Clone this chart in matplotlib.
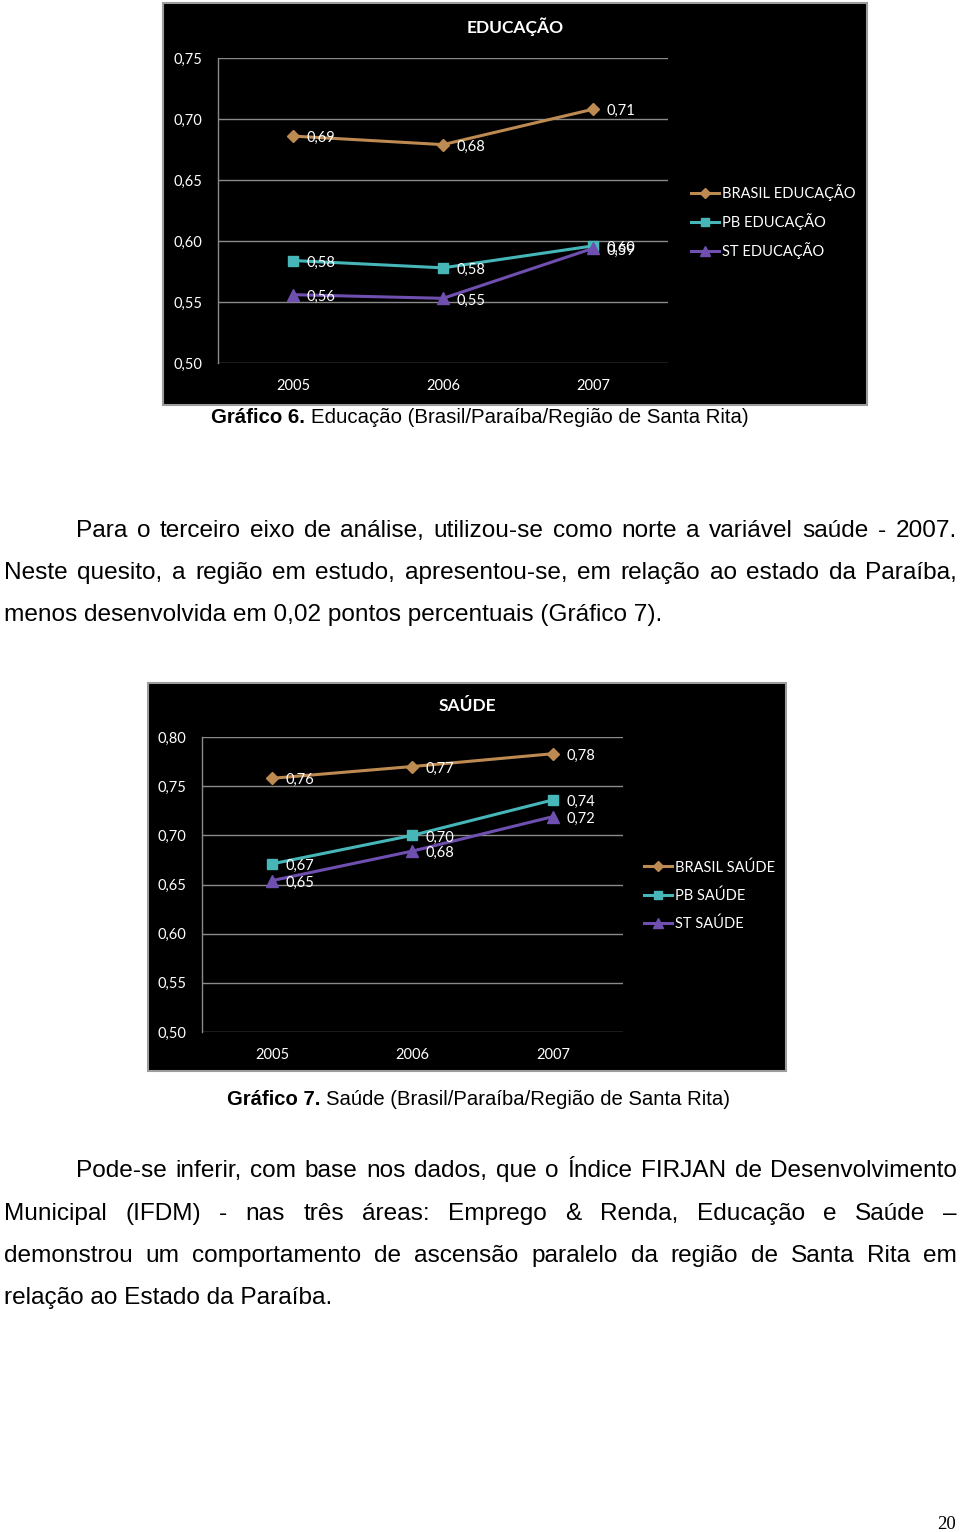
import matplotlib
matplotlib.use('Agg')
import matplotlib.pyplot as plt
from matplotlib.patches import Rectangle

# ---------------- data ----------------
years = ['2005', '2006', '2007']

edu_names = ['BRASIL EDUCAÇÃO', 'PB EDUCAÇÃO', 'ST EDUCAÇÃO']
edu_brasil = [0.686, 0.679, 0.708]
edu_pb = [0.584, 0.578, 0.596]
edu_st = [0.556, 0.553, 0.594]
edu_ticks = [0.50, 0.55, 0.60, 0.65, 0.70, 0.75]

sau_names = ['BRASIL SAÚDE', 'PB SAÚDE', 'ST SAÚDE']
sau_brasil = [0.758, 0.770, 0.783]
sau_pb = [0.671, 0.700, 0.736]
sau_st = [0.654, 0.684, 0.719]
sau_ticks = [0.50, 0.55, 0.60, 0.65, 0.70, 0.75, 0.80]

para1 = [
    "Para o terceiro eixo de análise, utilizou-se como norte a variável saúde - 2007.",
    "Neste quesito, a região em estudo, apresentou-se, em relação ao estado da Paraíba,",
    "menos desenvolvida em 0,02 pontos percentuais (Gráfico 7).",
]
para2 = [
    "Pode-se inferir, com base nos dados, que o Índice FIRJAN de Desenvolvimento",
    "Municipal (IFDM) - nas três áreas: Emprego & Renda, Educação e Saúde –",
    "demonstrou um comportamento de ascensão paralelo da região de Santa Rita em",
    "relação ao Estado da Paraíba.",
]

# ---------------- styles ----------------
W, H = 960, 1532
colors = ['#BD8A52', '#46B6B8', '#6F4FAF']
markers = ['D', 's', '^']
msizes = [6.5, 7.5, 8]
CF = ['Lato', 'DejaVu Sans']
BODY = 'Liberation Sans'

fig = plt.figure(figsize=(W / 100, H / 100), dpi=100)
fig.patch.set_facecolor('white')
renderer = fig.canvas.get_renderer()


def fx(x):
    return x / W


def fy(y):
    return 1 - y / H


def chart(box, plot, title, title_y, series, names, yticks, leg_xy, leg_sp):
    x0, y0, x1, y1 = box
    fig.add_artist(Rectangle((fx(x0), fy(y1)), (x1 - x0) / W, (y1 - y0) / H,
                             transform=fig.transFigure, facecolor='black',
                             edgecolor='#9c9c9c', lw=1.5, zorder=-1))
    px0, py_top, px1, py_bot = plot
    ax = fig.add_axes([fx(px0), fy(py_bot), (px1 - px0) / W, (py_bot - py_top) / H])
    ax.set_facecolor('none')
    xs = list(range(len(years)))
    lines = []
    for i, (vals, name) in enumerate(zip(series, names)):
        ln, = ax.plot(xs, vals, color=colors[i], lw=2.2, marker=markers[i],
                      ms=msizes[i], mec=colors[i], mfc=colors[i], label=name,
                      zorder=3 + i, clip_on=False)
        lines.append(ln)
        for x, v in zip(xs, vals):
            ax.annotate(f"{v:.2f}".replace('.', ','), (x, v), xytext=(9.5, -1.5),
                        textcoords='offset points', va='center', ha='left',
                        color='white', fontsize=10.5, family=CF, zorder=10)
    ax.set_xlim(-0.5, len(years) - 0.5)
    ax.set_ylim(yticks[0], yticks[-1])
    ax.set_yticks(yticks)
    ax.set_yticklabels([f"{t:.2f}".replace('.', ',') for t in yticks])
    ax.set_xticks(xs)
    ax.set_xticklabels(years)
    ax.tick_params(axis='y', length=0, pad=11, labelcolor='white', labelsize=10.5)
    ax.tick_params(axis='x', length=0, pad=11.5, labelcolor='white', labelsize=10.5)
    for lab in ax.get_xticklabels() + ax.get_yticklabels():
        lab.set_family(CF)
    ax.grid(axis='y', color='#8a8a8a', lw=1.0)
    ax.set_axisbelow(True)
    for s in ['top', 'right', 'bottom']:
        ax.spines[s].set_visible(False)
    ax.spines['left'].set_color('#8a8a8a')
    ax.spines['left'].set_linewidth(1.0)
    fig.text(fx((x0 + x1) / 2), fy(title_y), title, ha='center', va='center',
             color='white', fontsize=12.5, fontweight='bold', family=CF)
    leg = fig.legend(handles=lines, loc='upper left',
                     bbox_to_anchor=(fx(leg_xy[0]), fy(leg_xy[1])),
                     frameon=False, borderpad=0, borderaxespad=0,
                     handlelength=1.95, handletextpad=0.15, labelspacing=leg_sp,
                     markerscale=0.85, prop={'family': CF, 'size': 10.5})
    for t in leg.get_texts():
        t.set_color('white')
    return ax


chart((163, 3, 867, 405), (218, 58, 668, 363), 'EDUCAÇÃO', 27,
      [edu_brasil, edu_pb, edu_st], edu_names, edu_ticks, (691, 184), 0.82)
chart((148, 683, 786, 1071), (202, 737, 623, 1032), 'SAÚDE', 706,
      [sau_brasil, sau_pb, sau_st], sau_names, sau_ticks, (644, 860), 0.95)


# ---------------- body text ----------------
def width_of(s, size, weight='normal', family=BODY):
    t = fig.text(0, 0, s, fontsize=size, fontweight=weight, family=family)
    w = t.get_window_extent(renderer).width
    t.remove()
    return w


body_size = 10 * 662 / width_of(para1[2], 10)


def put_line(s, x0, x1, base, justify):
    base = round(base)
    words = s.split(' ')
    if not justify or len(words) == 1:
        fig.text(fx(x0), fy(base), s, fontsize=body_size, family=BODY,
                 va='baseline', ha='left', color='black')
        return
    ws = [width_of(w, body_size) for w in words]
    gap = (x1 - x0 - sum(ws)) / (len(words) - 1)
    x = x0
    for w, wd in zip(words, ws):
        fig.text(fx(x), fy(base), w, fontsize=body_size, family=BODY,
                 va='baseline', ha='left', color='black')
        x += wd + gap


def paragraph(lines, base0, step):
    for i, s in enumerate(lines):
        x0 = 76 if i == 0 else 4
        put_line(s, x0, 957, base0 + i * step, i < len(lines) - 1)


paragraph(para1, 537, 42)
paragraph(para2, 1177, 42.5)


def caption(bold, rest, x0, x1, base):
    full_w = width_of(bold + ' ', 10, 'bold') + width_of(rest, 10)
    size = 10 * (x1 - x0) / full_w
    wb = width_of(bold + ' ', size, 'bold')
    fig.text(fx(x0), fy(base), bold + ' ', fontsize=size, fontweight='bold',
             family=BODY, va='baseline', ha='left')
    fig.text(fx(x0 + wb), fy(base), rest, fontsize=size, family=BODY,
             va='baseline', ha='left')


caption('Gráfico 6.', 'Educação (Brasil/Paraíba/Região de Santa Rita)', 211, 749, 423)
caption('Gráfico 7.', 'Saúde (Brasil/Paraíba/Região de Santa Rita)', 227, 732, 1105)

fig.text(fx(946), fy(1529), '20', fontsize=13.5, family='Liberation Serif',
         ha='center', va='baseline')

fig.savefig('out.png', dpi=100, facecolor='white')
